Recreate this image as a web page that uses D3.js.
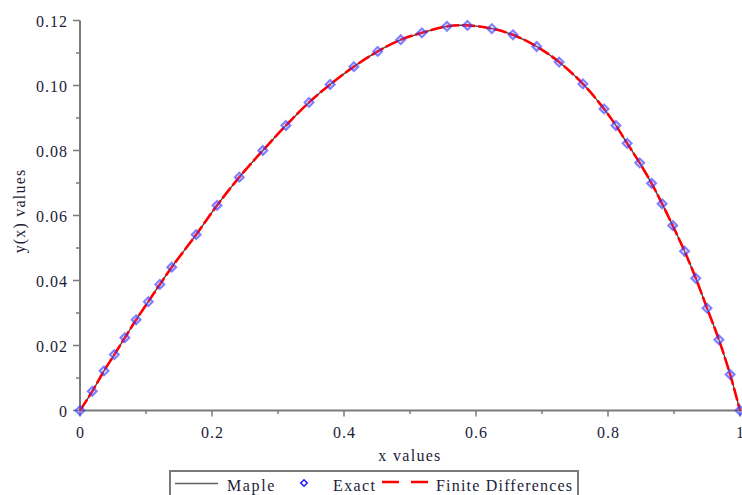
<!DOCTYPE html>
<html>
<head>
<meta charset="utf-8">
<script src="https://cdn.jsdelivr.net/npm/d3@7"></script>
<style>
  html, body { margin: 0; padding: 0; background: #fff; }
  svg { display: block; }
  text { font-family: "Liberation Serif", "Times New Roman", serif; fill: #1c1c38; }
</style>
</head>
<body>
<svg id="chart" width="742" height="495"></svg>
<script>
// x positions of the plotted points
const xValues = [0, 0.0186, 0.0364, 0.052, 0.068, 0.085, 0.1035, 0.121, 0.139, 0.176,
  0.2076, 0.2414, 0.277, 0.312, 0.347, 0.379, 0.415, 0.451, 0.486, 0.518,
  0.556, 0.587, 0.624, 0.656, 0.692, 0.726, 0.762, 0.794, 0.812, 0.829,
  0.848, 0.866, 0.882, 0.898, 0.916, 0.933, 0.950, 0.968, 0.985, 1.0];
// Exact solution values (diamonds)
const exactY = [0, 0.0059, 0.0122, 0.0172, 0.0224, 0.0279, 0.0335, 0.0388, 0.0441, 0.0541,
  0.0631, 0.0718, 0.0800, 0.0877, 0.0948, 0.1003, 0.1058, 0.1105, 0.1141, 0.1162,
  0.1182, 0.1185, 0.1175, 0.1156, 0.1120, 0.1072, 0.1005, 0.0928, 0.0877, 0.0822,
  0.0762, 0.0699, 0.0636, 0.0569, 0.0490, 0.0407, 0.0315, 0.0218, 0.0111, 0];
// Maple solution (solid grey line)
const mapleY = exactY.slice();
// Finite differences solution (red dashed line)
const fdY = exactY.slice();

const xTicks = [0, 0.2, 0.4, 0.6, 0.8, 1];
const xTickLabels = ["0", "0.2", "0.4", "0.6", "0.8", "1"];
const xMinor = [0.1, 0.3, 0.5, 0.7, 0.9];
const yTicks = [0, 0.02, 0.04, 0.06, 0.08, 0.10, 0.12];
const yTickLabels = ["0", "0.02", "0.04", "0.06", "0.08", "0.10", "0.12"];
const yMinor = [0.01, 0.03, 0.05, 0.07, 0.09, 0.11];
const legendLabels = ["Maple", "Exact", "Finite Differences"];

const svg = d3.select("#chart");
const x = d3.scaleLinear().domain([0, 1]).range([80, 740]);
const y = d3.scaleLinear().domain([0, 0.12]).range([410.5, 20.5]);

const axisColor = "#7a7a7a";

// X axis
const gx = svg.append("g").attr("transform", `translate(0,${y(0)})`);
gx.append("line").attr("x1", 80).attr("x2", 742).attr("stroke", axisColor).attr("stroke-width", 2);
gx.selectAll(".maj").data(xTicks).join("line")
  .attr("x1", d => x(d)).attr("x2", d => x(d)).attr("y1", 0).attr("y2", 6)
  .attr("stroke", axisColor).attr("stroke-width", 1.5);
gx.selectAll(".min").data(xMinor).join("line")
  .attr("x1", d => x(d)).attr("x2", d => x(d)).attr("y1", 0).attr("y2", 3.5)
  .attr("stroke", axisColor).attr("stroke-width", 1.5);
gx.selectAll("text").data(xTicks).join("text")
  .attr("x", d => x(d) + 0.5).attr("y", 27)
  .attr("text-anchor", "middle")
  .style("font-size", "16px").style("letter-spacing", "1px")
  .text((d, i) => xTickLabels[i]);

// Y axis
const gy = svg.append("g").attr("transform", `translate(${x(0)},0)`);
gy.append("line").attr("y1", y(0)).attr("y2", y(0.12)).attr("stroke", axisColor).attr("stroke-width", 2);
gy.selectAll(".maj").data(yTicks).join("line")
  .attr("y1", d => y(d)).attr("y2", d => y(d)).attr("x1", 0).attr("x2", -7)
  .attr("stroke", axisColor).attr("stroke-width", 1.5);
gy.selectAll(".min").data(yMinor).join("line")
  .attr("y1", d => y(d)).attr("y2", d => y(d)).attr("x1", 0).attr("x2", -4)
  .attr("stroke", axisColor).attr("stroke-width", 1.5);
gy.selectAll("text").data(yTicks).join("text")
  .attr("x", -12).attr("y", d => y(d) + 6)
  .attr("text-anchor", "end")
  .style("font-size", "16px").style("letter-spacing", "1px")
  .text((d, i) => yTickLabels[i]);

// Axis titles
svg.append("text").attr("x", 410).attr("y", 461)
  .attr("text-anchor", "middle").style("font-size", "16px").style("letter-spacing", "1.3px")
  .text("x values");
svg.append("text").attr("transform", "translate(25,211) rotate(-90)")
  .attr("text-anchor", "middle").style("font-size", "16px").style("letter-spacing", "1.2px")
  .text("y(x) values");

const pts = (ys) => xValues.map((d, i) => [d, ys[i]]);
const line = d3.line().x(d => x(d[0])).y(d => y(d[1])).curve(d3.curveCatmullRom);

// Maple line
svg.append("path").datum(pts(mapleY)).attr("d", line)
  .attr("fill", "none").attr("stroke", "#404040").attr("stroke-width", 1.3);
// FD line
svg.append("path").datum(pts(fdY)).attr("d", line)
  .attr("fill", "none").attr("stroke", "#ff0000").attr("stroke-width", 2.6)
  .attr("stroke-dasharray", "13,3");

// Exact diamonds
const diamond = (cx, cy, r) => `M${cx},${cy - r}L${cx + r},${cy}L${cx},${cy + r}L${cx - r},${cy}Z`;
svg.append("g").selectAll("path").data(pts(exactY)).join("path")
  .attr("d", d => diamond(x(d[0]), y(d[1]), 4.5))
  .attr("fill", "rgba(120,120,255,0.25)")
  .attr("stroke", "rgba(50,50,255,0.6)").attr("stroke-width", 2);

// Legend
const lg = svg.append("g");
lg.append("rect").attr("x", 170).attr("y", 471).attr("width", 408).attr("height", 40)
  .attr("fill", "#fff").attr("stroke", "#7a7a7a").attr("stroke-width", 2);
lg.append("line").attr("x1", 175).attr("x2", 218).attr("y1", 483.5).attr("y2", 483.5)
  .attr("stroke", "#606060").attr("stroke-width", 1.5);
lg.append("text").attr("x", 227).attr("y", 491).style("font-size", "16px").style("letter-spacing", "1.6px").text(legendLabels[0]);
lg.append("path").attr("d", diamond(304, 483, 3.2))
  .attr("fill", "none").attr("stroke", "#2020ff").attr("stroke-width", 1.6);
lg.append("text").attr("x", 333).attr("y", 491).style("font-size", "16px").style("letter-spacing", "1.4px").text(legendLabels[1]);
lg.append("line").attr("x1", 382).attr("x2", 429).attr("y1", 482).attr("y2", 482)
  .attr("stroke", "#ff0000").attr("stroke-width", 2.6).attr("stroke-dasharray", "17,12");
lg.append("text").attr("x", 436).attr("y", 491).style("font-size", "16px").style("letter-spacing", "1.2px").text(legendLabels[2]);
</script>
</body>
</html>
